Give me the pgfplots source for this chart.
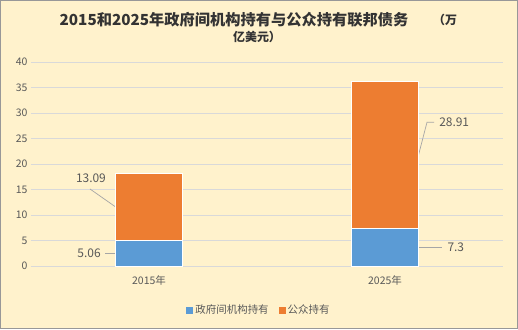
\documentclass[border=0pt]{standalone}
\usepackage{fontspec}
\setmainfont{Noto Sans CJK SC}
\usepackage{pgfplots}
\pgfplotsset{compat=1.18}
\definecolor{bg}{HTML}{FFF2CC}
\definecolor{gblue}{HTML}{5B9BD5}
\definecolor{gorange}{HTML}{ED7D31}
\definecolor{txt}{HTML}{595959}
\definecolor{gridc}{HTML}{D9D9D9}
\definecolor{leader}{HTML}{A6A6A6}

\begin{document}
\begin{tikzpicture}[x=1bp,y=1bp]
% background and frame, 518x329 px with the plot box at (31,266) px
\fill[bg] (-31,-63) rectangle (487,266);
\draw[gridc!70!black, line width=0.8bp] (-30.6,-62.6) rectangle (486.6,265.6);
\useasboundingbox (-31,-63) rectangle (487,266);
\node[font=\fontsize{15.3}{18}\selectfont\bfseries, text=black!80] at (203,246) {2015和2025年政府间机构持有与公众持有联邦债务};
\node[font=\fontsize{12}{14}\selectfont\bfseries, text=black!80] at (414,246) {（万};
\node[font=\fontsize{12}{14}\selectfont\bfseries, text=black!80] at (226,229) {亿美元）};

\begin{axis}[
    at={(0,0)}, anchor=south west,
    scale only axis, width=472bp, height=204bp,
    ybar stacked, bar width=67bp,
    xmin=-0.5, xmax=1.5, ymin=0, ymax=40,
    xtick={0,1}, xticklabels={2015年,2025年},
    ytick={0,5,...,40},
    ymajorgrids, grid style={gridc, line width=0.8bp},
    axis lines*=left,
    y axis line style={draw=none},
    x axis line style={gridc, line width=0.8bp},
    tick style={draw=none},
    tick label style={font=\fontsize{10.5}{12}\selectfont, text=txt},
    xticklabel style={yshift=-6bp},
    /pgf/number format/assume math mode=true,
    legend style={at={(0.483,-0.216)}, anchor=center, draw=none, fill=none,
        legend columns=2, font=\fontsize{10.5}{12}\selectfont, text=txt,
        /tikz/every even column/.append style={column sep=8bp}},
    legend image code/.code={\fill[#1,draw=none] (0bp,-3.5bp) rectangle (7bp,3.5bp);},
]
\addplot[fill=gblue, draw=white, line width=0.8bp] coordinates {(0,5.06) (1,7.3)};
\addplot[fill=gorange, draw=white, line width=0.8bp] coordinates {(0,13.09) (1,28.91)};
\legend{政府间机构持有,公众持有}

% data labels with leader lines
\draw[leader, line width=0.7bp] (axis cs:-0.142,2.53) -- (axis cs:-0.186,2.53);
\node[anchor=east, text=txt, font=\fontsize{12}{14}\selectfont] at (axis cs:-0.19,2.53) {5.06};
\draw[leader, line width=0.7bp] (axis cs:-0.142,11.6) -- (axis cs:-0.25,15.1);
\node[text=txt, font=\fontsize{12}{14}\selectfont] at (axis cs:-0.246,17.3) {13.09};
\draw[leader, line width=0.7bp] (axis cs:1.142,21.76) -- (axis cs:1.178,28.2) -- (axis cs:1.208,28.2);
\node[anchor=west, text=txt, font=\fontsize{12}{14}\selectfont] at (axis cs:1.215,28.2) {28.91};
\draw[leader, line width=0.7bp] (axis cs:1.144,3.65) -- (axis cs:1.242,3.65);
\node[anchor=west, text=txt, font=\fontsize{12}{14}\selectfont] at (axis cs:1.25,3.65) {7.3};
\end{axis}
\end{tikzpicture}
\end{document}
